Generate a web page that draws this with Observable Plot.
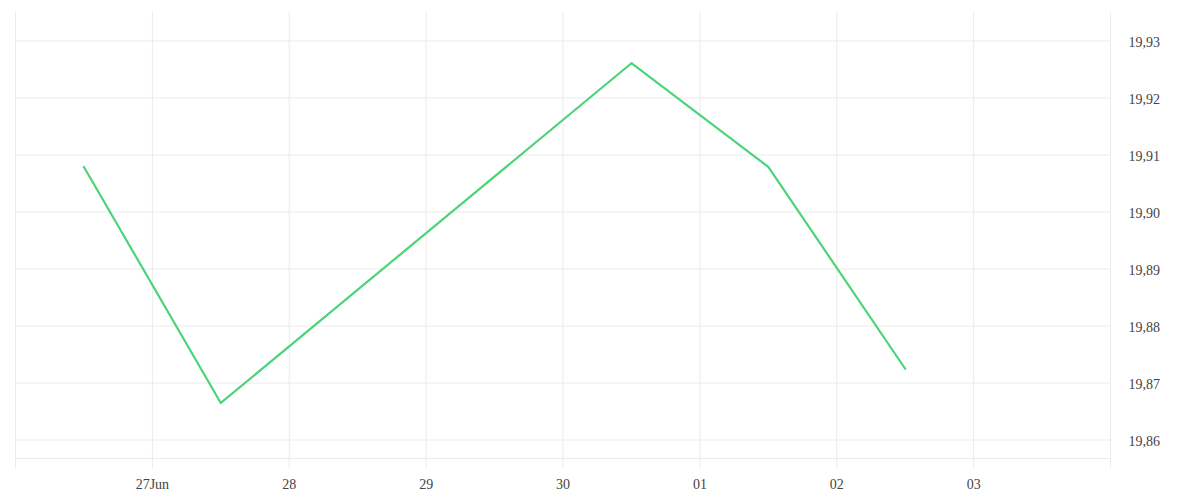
<!DOCTYPE html>
<html>
<head>
<meta charset="utf-8">
<script src="https://cdn.jsdelivr.net/npm/d3@7"></script>
<script src="https://cdn.jsdelivr.net/npm/@observablehq/plot@0.6"></script>
<style>
  html, body { margin: 0; padding: 0; background: #fff; }
  #chart { width: 1200px; height: 500px; }
</style>
</head>
<body>
<div id="chart"></div>
<script>
// Data
const dates = ["2025-06-26T12:00Z", "2025-06-27T12:00Z", "2025-06-30T12:00Z", "2025-07-01T12:00Z", "2025-07-02T12:00Z"];
const values = [19.9079, 19.8665, 19.9261, 19.9079, 19.8725];
const gridDays = ["2025-06-26", "2025-06-27", "2025-06-28", "2025-06-29", "2025-06-30", "2025-07-01", "2025-07-02", "2025-07-03", "2025-07-04"];
const xTickDays = ["2025-06-27", "2025-06-28", "2025-06-29", "2025-06-30", "2025-07-01", "2025-07-02", "2025-07-03"];
const xTickLabels = ["27Jun", "28", "29", "30", "01", "02", "03"];
const yTicks = [19.86, 19.87, 19.88, 19.89, 19.90, 19.91, 19.92, 19.93];
const xDomain = ["2025-06-26", "2025-07-04"];
const yDomain = [19.855, 19.935];

const data = dates.map((d, i) => ({date: new Date(d), value: values[i]}));
const grid = gridDays.map(d => new Date(d));
const xt = xTickDays.map(d => new Date(d));
const labelOf = new Map(xt.map((d, i) => [+d, xTickLabels[i]]));

const chart = Plot.plot({
  width: 1200,
  height: 500,
  marginLeft: 15,
  marginRight: 90,
  marginTop: 12,
  marginBottom: 32,
  style: {fontFamily: "'Liberation Serif', serif", fontSize: "14px", color: "#444", background: "#fff"},
  x: {type: "utc", domain: xDomain.map(d => new Date(d))},
  y: {domain: yDomain},
  marks: [
    Plot.ruleY(yTicks, {stroke: "#ebebeb", strokeWidth: 1, strokeOpacity: 1}),
    Plot.ruleY([yDomain[0]], {stroke: "#ebebeb", strokeWidth: 1, dy: -10}),
    Plot.ruleX(grid, {stroke: "#ebebeb", strokeWidth: 1}),
    Plot.axisY(yTicks, {
      anchor: "right",
      tickSize: 0,
      tickPadding: 18,
      textAnchor: "start",
      dy: 2,
      fill: "#444",
      tickFormat: d => d.toFixed(2).replace(".", ","),
      label: null
    }),
    Plot.axisX(xt, {
      anchor: "bottom",
      tickSize: 0,
      tickPadding: 11,
      fill: "#444",
      tickFormat: d => labelOf.get(+d),
      label: null
    }),
    Plot.line(data, {x: "date", y: "value", stroke: "#4cd479", strokeWidth: 2.2})
  ]
});
document.getElementById("chart").appendChild(chart);
</script>
</body>
</html>
